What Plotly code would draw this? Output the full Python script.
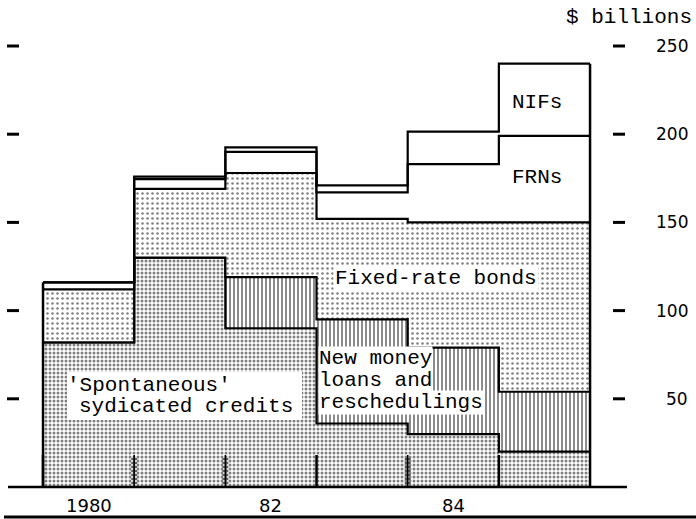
import plotly.graph_objects as go

# ---------------- data (values in $ billions) -------------
years = [1980, 1981, 1982, 1983, 1984, 1985]
syndicated = [82, 130, 90, 36, 30, 20]          # 'Spontaneous' syndicated credits
new_money = [0, 0, 29, 59, 49, 34]              # New money loans and reschedulings
fixed_bonds = [30, 39, 59, 57, 71, 96]          # Fixed-rate bonds
frns = [4, 5.5, 12, 15, 33, 49]                 # FRNs
nifs = [0, 1.5, 2.5, 4, 18.5, 41]               # NIFs
x_label_years = [1980, 1982, 1984]
x_labels = ["1980", "82", "84"]
y_ticks = [50, 100, 150, 200, 250]

# ---------------- geometry ------------------------------------------------------
W, H = 696, 519
PT, PB = 11, 500            # plot area top / bottom pixel
X0_PIX, XSTEP = 88.6, 91.17  # pixel of 1980 centre, pixels per year
Y0_PIX, YSCALE = 487, 1.764  # pixel of value 0, pixels per $bn

xr = [1980 - X0_PIX / XSTEP, 1980 + (W - X0_PIX) / XSTEP]
yr = [(Y0_PIX - PB) / YSCALE, (Y0_PIX - PT) / YSCALE]


def PX(p):
    return p / W


def PY(p):
    return (PB - p) / (PB - PT)


MONO = "Liberation Mono"
SANS = "DejaVu Sans"

edges = [y - 0.5 for y in years] + [years[-1] + 0.5]

layers = [
    ("syndicated", syndicated, dict(shape=".", size=4, solidity=0.45, fgcolor="black", bgcolor="white")),
    ("new money", new_money, dict(shape="|", size=4, solidity=0.45, fgcolor="black", bgcolor="white")),
    ("fixed bonds", fixed_bonds, dict(shape=".", size=5, solidity=0.2, fgcolor="black", bgcolor="white")),
    ("FRNs", frns, None),
    ("NIFs", nifs, None),
]

fig = go.Figure()
cum = [0.0] * len(years)
for i, (name, vals, pat) in enumerate(layers):
    cum = [c + v for c, v in zip(cum, vals)]
    ys = cum + [cum[-1]]
    kw = dict(fillpattern=pat) if pat else {}
    fig.add_trace(go.Scatter(
        x=edges, y=ys, mode="lines", name=name,
        line=dict(color="black", width=2.2, shape="hv"),
        fill="tozeroy" if i == 0 else "tonexty",
        fillcolor="white", hoverinfo="skip", **kw))
totals = cum

shapes = []
# outer vertical edges of the stacked block
shapes.append(dict(type="line", xref="x", yref="y", x0=edges[0], x1=edges[0], y0=0, y1=totals[0],
                   line=dict(color="black", width=2.5)))
shapes.append(dict(type="line", xref="x", yref="y", x0=edges[-1], x1=edges[-1], y0=0, y1=totals[-1],
                   line=dict(color="black", width=2.5)))
# baseline
shapes.append(dict(type="line", xref="paper", yref="y", x0=PX(8), x1=PX(627), y0=0, y1=0,
                   line=dict(color="black", width=2.5)))
# bottom rule
shapes.append(dict(type="line", xref="paper", yref="paper", x0=PX(4), x1=1, y0=PY(517), y1=PY(517),
                   line=dict(color="black", width=3)))
# period ticks
tick_h = 32 / YSCALE
for k, e in enumerate(edges[:-1]):
    ladder = k in (1, 2, 4)
    shapes.append(dict(type="line", xref="x", yref="y", x0=e, x1=e, y0=0, y1=tick_h,
                       line=dict(color="black", width=1.6 if ladder else 2.5)))
    if ladder:
        for j in range(1, 8):
            yy = j * 4 / YSCALE
            shapes.append(dict(type="line", xref="x", yref="y",
                               x0=e - 3 / XSTEP, x1=e + 3 / XSTEP, y0=yy, y1=yy,
                               line=dict(color="black", width=1.2)))
# y tick dashes (left and right)
for v in y_ticks:
    shapes.append(dict(type="line", xref="paper", yref="y", x0=PX(7), x1=PX(19), y0=v, y1=v,
                       line=dict(color="black", width=3)))
    shapes.append(dict(type="line", xref="paper", yref="y", x0=PX(613), x1=PX(625), y0=v, y1=v,
                       line=dict(color="black", width=3)))
# white box behind the syndicated-credits label
shapes.append(dict(type="rect", xref="paper", yref="paper", x0=PX(67), x1=PX(302), y0=PY(420), y1=PY(372),
                   fillcolor="white", line=dict(width=0), layer="above"))

ann = []
lab_font = dict(family=MONO, size=21, color="black")
for v in y_ticks:
    ann.append(dict(text=str(v), xref="paper", yref="y", x=PX(690), y=v, xanchor="right", yanchor="middle",
                    showarrow=False, font=dict(family=SANS, size=17, color="black")))
for yv, t in zip(x_label_years, x_labels):
    ann.append(dict(text=t, xref="x", yref="paper", x=yv, y=PY(505), xanchor="center", yanchor="middle",
                    showarrow=False, font=dict(family=SANS, size=18, color="black")))
ann.append(dict(text="$ billions", xref="paper", yref="paper", x=PX(694), y=PY(17), xanchor="right",
                yanchor="middle", showarrow=False, font=lab_font))
ann.append(dict(text="Fixed-rate bonds", xref="paper", yref="paper", x=PX(436), y=PY(278), xanchor="center",
                yanchor="middle", showarrow=False, font=lab_font, bgcolor="white", borderpad=1))
for t, py in [("New money", 358), ("loans and", 380), ("reschedulings", 402)]:
    ann.append(dict(text=t, xref="paper", yref="paper", x=PX(318), y=PY(py), xanchor="left",
                    yanchor="middle", showarrow=False, font=lab_font, bgcolor="white", borderpad=0))
ann.append(dict(text="'Spontaneous'", xref="paper", yref="paper", x=PX(65), y=PY(385), xanchor="left",
                yanchor="middle", showarrow=False, font=lab_font))
ann.append(dict(text="sydicated credits", xref="paper", yref="paper", x=PX(77), y=PY(406), xanchor="left",
                yanchor="middle", showarrow=False, font=lab_font))
ann.append(dict(text="NIFs", xref="paper", yref="paper", x=PX(537), y=PY(103), xanchor="center",
                yanchor="middle", showarrow=False, font=lab_font))
ann.append(dict(text="FRNs", xref="paper", yref="paper", x=PX(537), y=PY(177), xanchor="center",
                yanchor="middle", showarrow=False, font=lab_font))

fig.update_layout(
    width=W, height=H,
    margin=dict(l=0, r=0, t=PT, b=H - PB, pad=0),
    paper_bgcolor="white", plot_bgcolor="white",
    showlegend=False,
    xaxis=dict(range=xr, visible=False, fixedrange=True),
    yaxis=dict(range=yr, visible=False, fixedrange=True),
    shapes=shapes, annotations=ann,
)

fig.write_html("out.html", config={"displayModeBar": False},
               post_script="document.body.style.margin='0';document.body.style.overflow='hidden';")
